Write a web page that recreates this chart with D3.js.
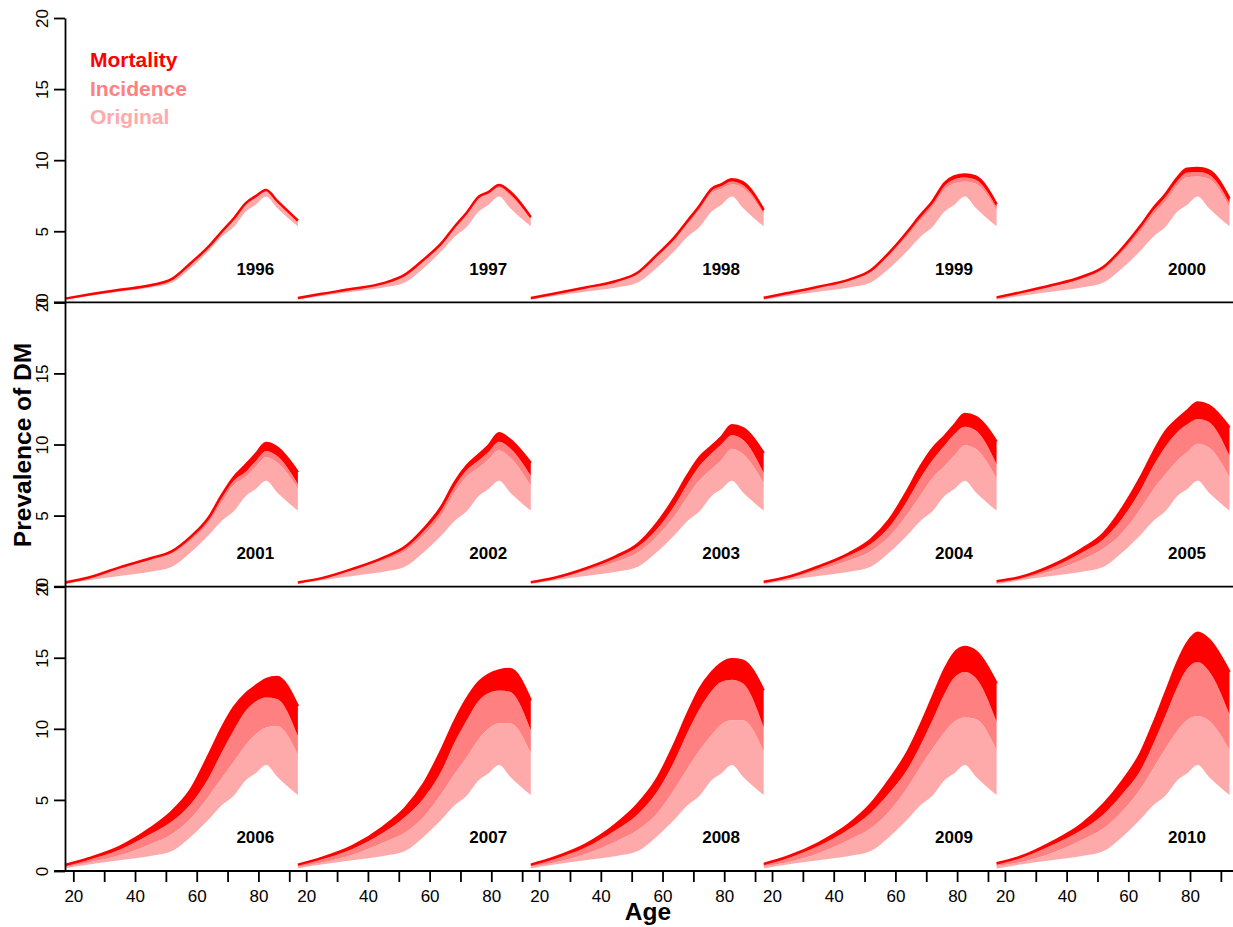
<!DOCTYPE html>
<html>
<head>
  <meta charset="utf-8">
  <title>Prevalence of DM</title>
  <script src="https://cdn.jsdelivr.net/npm/d3@7/dist/d3.min.js"></script>
  <style>
    body { margin: 0; background: #fff; }
    text { font-family: "Liberation Sans", Arial, sans-serif; }
  </style>
</head>
<body>
  <div id="dataviz_area"></div>
</body>
<script>
  const ages = [17.3, 25, 35, 45, 52, 58, 64, 68, 72, 76, 79, 82.5, 86, 92.8];
  const years = [1996, 1997, 1998, 1999, 2000, 2001, 2002, 2003, 2004, 2005, 2006, 2007, 2008, 2009, 2010];

  // lower edge of the light band (same in every panel)
  const basePrev = [0.18, 0.45, 0.75, 1.05, 1.4, 2.4, 3.65, 4.6, 5.3, 6.4, 6.85, 7.45, 6.65, 5.35];

  const original = [
    [0.24, 0.52, 0.84, 1.15, 1.6, 2.65, 3.85, 4.85, 5.8, 6.9, 7.35, 7.8, 7.1, 5.65],
    [0.29, 0.58, 0.92, 1.3, 1.88, 2.9, 4.08, 5.17, 6.15, 7.28, 7.58, 8.06, 7.52, 5.86],
    [0.29, 0.59, 1.0, 1.42, 2.0, 3.15, 4.4, 5.46, 6.52, 7.7, 7.98, 8.3, 8.05, 6.22],
    [0.3, 0.6, 1.03, 1.5, 2.1, 3.3, 4.7, 5.75, 6.7, 7.95, 8.35, 8.5, 8.35, 6.45],
    [0.32, 0.64, 1.1, 1.65, 2.3, 3.52, 5.0, 6.15, 7.1, 8.25, 8.8, 8.85, 8.7, 6.7],
    [0.29, 0.6, 1.27, 1.87, 2.33, 3.25, 4.55, 5.9, 7.15, 7.75, 8.4, 9.1, 8.75, 6.9],
    [0.28, 0.56, 1.15, 1.85, 2.5, 3.6, 5.1, 6.6, 7.75, 8.4, 8.95, 9.6, 9.1, 7.1],
    [0.28, 0.55, 1.1, 1.75, 2.4, 3.5, 5.0, 6.3, 7.5, 8.3, 8.9, 9.7, 9.35, 7.3],
    [0.29, 0.57, 1.15, 1.85, 2.5, 3.55, 5.15, 6.4, 7.65, 8.5, 9.2, 9.95, 9.7, 7.6],
    [0.28, 0.52, 1.1, 1.9, 2.7, 3.8, 5.5, 6.8, 7.9, 8.9, 9.45, 10.05, 9.8, 7.7],
    [0.3, 0.6, 1.1, 1.9, 2.6, 3.7, 5.3, 6.5, 7.7, 8.9, 9.6, 10.1, 10.2, 8.2],
    [0.3, 0.6, 1.15, 2.0, 2.7, 3.8, 5.5, 6.8, 8.0, 9.3, 10.0, 10.4, 10.4, 8.3],
    [0.32, 0.6, 1.2, 2.1, 2.9, 4.0, 5.8, 7.2, 8.5, 9.6, 10.3, 10.6, 10.6, 8.4],
    [0.33, 0.62, 1.25, 2.2, 3.0, 4.2, 5.9, 7.3, 8.6, 9.8, 10.5, 10.8, 10.7, 8.5],
    [0.35, 0.62, 1.25, 2.2, 3.0, 4.2, 5.8, 7.2, 8.6, 9.9, 10.6, 10.9, 10.6, 8.5]
  ];

  const incidence = [
    [0.25, 0.54, 0.86, 1.18, 1.62, 2.7, 3.9, 4.9, 5.85, 6.95, 7.4, 7.85, 7.12, 5.7],
    [0.3, 0.6, 0.94, 1.33, 1.92, 2.96, 4.15, 5.25, 6.24, 7.38, 7.68, 8.18, 7.63, 5.94],
    [0.3, 0.61, 1.03, 1.47, 2.06, 3.24, 4.52, 5.6, 6.68, 7.87, 8.16, 8.5, 8.25, 6.38],
    [0.31, 0.63, 1.07, 1.56, 2.19, 3.42, 4.88, 5.96, 6.93, 8.2, 8.64, 8.78, 8.62, 6.7],
    [0.34, 0.68, 1.16, 1.74, 2.42, 3.7, 5.25, 6.43, 7.4, 8.56, 9.12, 9.16, 9.0, 7.0],
    [0.3, 0.64, 1.33, 1.96, 2.45, 3.43, 4.78, 6.2, 7.45, 8.1, 8.8, 9.55, 9.2, 7.2],
    [0.3, 0.59, 1.22, 1.98, 2.7, 3.88, 5.45, 7.0, 8.2, 8.9, 9.45, 10.2, 9.75, 7.8],
    [0.31, 0.6, 1.22, 2.02, 2.8, 4.0, 5.75, 7.2, 8.5, 9.4, 10.0, 10.65, 10.35, 8.0],
    [0.33, 0.64, 1.32, 2.2, 3.0, 4.2, 6.1, 7.6, 8.9, 9.95, 10.7, 11.25, 11.0, 8.6],
    [0.34, 0.62, 1.32, 2.4, 3.35, 4.8, 6.8, 8.45, 9.85, 10.9, 11.4, 11.8, 11.6, 9.2],
    [0.38, 0.8, 1.5, 2.6, 3.5, 4.7, 6.6, 8.3, 9.9, 11.3, 11.9, 12.2, 12.1, 9.5],
    [0.4, 0.82, 1.55, 2.7, 3.8, 5.1, 7.1, 9.0, 10.6, 12.0, 12.5, 12.7, 12.6, 9.9],
    [0.42, 0.85, 1.65, 2.9, 4.0, 5.5, 7.8, 9.7, 11.4, 12.7, 13.3, 13.45, 13.2, 10.1],
    [0.45, 0.9, 1.75, 2.95, 4.1, 5.5, 7.2, 8.8, 10.6, 12.5, 13.6, 14.0, 13.6, 10.5],
    [0.48, 0.92, 1.8, 2.9, 4.0, 5.4, 7.1, 8.9, 10.9, 13.0, 14.2, 14.7, 14.1, 11.0]
  ];

  const mortality = [
    [0.26, 0.55, 0.88, 1.2, 1.65, 2.75, 3.95, 4.95, 5.9, 7.0, 7.45, 7.9, 7.15, 5.75],
    [0.3, 0.6, 0.95, 1.35, 1.95, 3.0, 4.2, 5.3, 6.3, 7.45, 7.75, 8.25, 7.8, 6.0],
    [0.3, 0.62, 1.05, 1.5, 2.1, 3.3, 4.6, 5.7, 6.8, 8.0, 8.3, 8.65, 8.45, 6.5],
    [0.32, 0.65, 1.1, 1.6, 2.25, 3.5, 5.0, 6.1, 7.1, 8.4, 8.85, 9.0, 8.85, 6.9],
    [0.35, 0.7, 1.2, 1.8, 2.5, 3.8, 5.4, 6.6, 7.6, 8.8, 9.4, 9.45, 9.3, 7.3],
    [0.3, 0.65, 1.36, 2.0, 2.5, 3.5, 4.9, 6.4, 7.7, 8.6, 9.3, 10.1, 9.8, 8.05],
    [0.3, 0.6, 1.25, 2.05, 2.8, 4.05, 5.7, 7.3, 8.5, 9.3, 9.9, 10.8, 10.35, 8.7],
    [0.32, 0.63, 1.28, 2.15, 3.0, 4.4, 6.3, 7.8, 9.1, 9.9, 10.5, 11.35, 11.15, 9.4],
    [0.35, 0.68, 1.42, 2.35, 3.3, 4.7, 6.8, 8.4, 9.7, 10.6, 11.35, 12.15, 11.95, 10.2],
    [0.38, 0.68, 1.48, 2.65, 3.75, 5.5, 7.7, 9.4, 10.9, 11.8, 12.35, 12.95, 12.75, 11.2],
    [0.42, 0.9, 1.7, 3.0, 4.2, 5.7, 8.2, 10.0, 11.5, 12.5, 13.0, 13.5, 13.65, 11.6],
    [0.45, 0.92, 1.75, 3.1, 4.4, 6.1, 8.6, 10.5, 12.1, 13.3, 13.8, 14.1, 14.2, 12.0],
    [0.45, 0.95, 1.85, 3.3, 4.7, 6.4, 9.0, 11.0, 12.8, 14.0, 14.6, 14.9, 14.8, 12.7],
    [0.5, 1.0, 1.95, 3.3, 4.7, 6.4, 8.4, 10.2, 12.2, 14.2, 15.3, 15.75, 15.45, 13.2],
    [0.55, 1.0, 2.0, 3.3, 4.7, 6.3, 8.3, 10.3, 12.5, 14.7, 16.0, 16.75, 16.3, 14.0]
  ];

  const yTicks = [0, 5, 10, 15, 20];
  const xTicks = [20, 30, 40, 50, 60, 70, 80, 90];
  const xLabels = [20, 40, 60, 80];
  const legendItems = ["Mortality", "Incidence", "Original"];
  const legendColors = ["#FF0000", "#FF8080", "#FFAAAA"];

  // layout
  const width = 1233, height = 927;
  const plotLeft = 65, panelW = 232.9;
  const plotTop = 18, plotBottom = 871;
  const rowH = (plotBottom - plotTop) / 3;
  const ageDomain = [17.3, 92.8];

  let svg = d3.select("#dataviz_area")
    .append("svg")
      .attr("width", width)
      .attr("height", height)
      .style("background", "#fff");

  years.forEach((yr, i) => {
    const row = Math.floor(i / 5), col = i % 5;
    let x = d3.scaleLinear()
      .domain(ageDomain)
      .range([plotLeft + col * panelW, plotLeft + (col + 1) * panelW]);
    let y = d3.scaleLinear()
      .domain([0, 20])
      .range([plotTop + (row + 1) * rowH, plotTop + row * rowH]);

    const band = (lo, hi) => d3.area()
      .x((d) => x(d))
      .y0((d, k) => y(lo[k]))
      .y1((d, k) => y(hi[k]))
      .curve(d3.curveMonotoneX);

    let g = svg.append("g");
    g.append("path").datum(ages).attr("d", band(basePrev, original[i])).attr("fill", legendColors[2]);
    g.append("path").datum(ages).attr("d", band(original[i], incidence[i])).attr("fill", legendColors[1]);
    g.append("path").datum(ages).attr("d", band(incidence[i], mortality[i])).attr("fill", legendColors[0]);
    g.append("path").datum(ages)
      .attr("d", d3.line().x((d) => x(d)).y((d, k) => y(mortality[i][k])).curve(d3.curveMonotoneX))
      .attr("fill", "none")
      .attr("stroke", legendColors[0])
      .attr("stroke-width", 2.5);

    g.append("text")
      .attr("x", x(79))
      .attr("y", y(1.95))
      .attr("text-anchor", "middle")
      .style("font-size", "17px")
      .style("font-weight", "bold")
      .text(yr);

    // x axis only under the last row
    if (row === 2) {
      let ax = svg.append("g")
        .attr("transform", "translate(0," + plotBottom + ")")
        .call(d3.axisBottom(x)
          .tickValues(xTicks)
          .tickSize(11)
          .tickPadding(8)
          .tickFormat((d) => xLabels.includes(d) ? d : ""));
      ax.select(".domain").remove();
      ax.selectAll("line").attr("stroke", "#000").attr("stroke-width", 1.8);
      ax.selectAll("text").style("font-size", "17px").attr("fill", "#000");
    }

    // y axis for each row
    if (col === 0) {
      let ay = svg.append("g")
        .attr("transform", "translate(" + plotLeft + ",0)")
        .call(d3.axisLeft(y).tickValues(yTicks).tickSize(11).tickSizeOuter(0));
      ay.select(".domain").attr("stroke", "#000").attr("stroke-width", 1.8);
      ay.selectAll("line").attr("stroke", "#000").attr("stroke-width", 1.8);
      ay.selectAll("text")
        .attr("x", 0)
        .attr("dy", 0)
        .attr("y", -17)
        .attr("transform", "rotate(-90)")
        .attr("text-anchor", "middle")
        .attr("fill", "#000")
        .style("font-size", "17px");
    }
  });

  // horizontal base lines of each row
  [1, 2, 3].forEach((r) => {
    svg.append("line")
      .attr("x1", plotLeft - 11).attr("x2", width)
      .attr("y1", plotTop + r * rowH).attr("y2", plotTop + r * rowH)
      .attr("stroke", "#000")
      .attr("stroke-width", 1.8);
  });

  // legend
  legendItems.forEach((name, k) => {
    svg.append("text")
      .attr("x", 90)
      .attr("y", 67 + k * 28.5)
      .attr("fill", legendColors[k])
      .style("font-size", "21px")
      .style("font-weight", "bold")
      .text(name);
  });

  // axis titles
  svg.append("text")
    .attr("transform", "translate(31,445) rotate(-90)")
    .attr("text-anchor", "middle")
    .style("font-size", "24.5px")
    .style("font-weight", "bold")
    .text("Prevalence of DM");

  svg.append("text")
    .attr("x", 648)
    .attr("y", 920)
    .attr("text-anchor", "middle")
    .style("font-size", "24.5px")
    .style("font-weight", "bold")
    .text("Age");
</script>
</html>
